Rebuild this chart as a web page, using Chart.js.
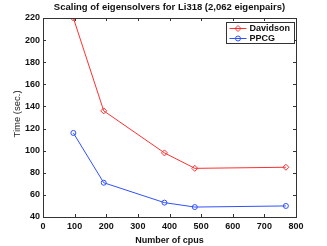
<!DOCTYPE html>
<html>
<head>
<meta charset="utf-8">
<script src="https://cdn.jsdelivr.net/npm/chart.js@4/dist/chart.umd.min.js"></script>
<style>
  html, body { margin: 0; padding: 0; background: #fff; }
  #wrap { width: 327px; height: 246px; }
</style>
</head>
<body>
<div id="wrap"><canvas id="myChart" width="327" height="246"></canvas></div>
<script>
const cpus = [96, 192, 384, 480, 768];
const davidson = [220, 136, 98, 84, 85];
const ppcg = [116, 71, 53, 49, 50];

const FONT = "'Liberation Sans', Arial, sans-serif";

// matlab style box, inward ticks, title, y label and legend
const matlabBox = {
    id: 'matlabBox',
    afterDatasetsDraw(chart) {
        const { ctx, chartArea: a, scales } = chart;
        ctx.save();
        ctx.strokeStyle = '#333';
        ctx.lineWidth = 1;
        ctx.strokeRect(Math.round(a.left) + 0.5, Math.round(a.top) + 0.5,
            Math.round(a.right - a.left), Math.round(a.bottom - a.top));

        ctx.beginPath();
        scales.x.ticks.forEach((t, i) => {
            const x = Math.round(scales.x.getPixelForTick(i)) + 0.5;
            ctx.moveTo(x, a.bottom); ctx.lineTo(x, a.bottom - 3);
            ctx.moveTo(x, a.top); ctx.lineTo(x, a.top + 3);
        });
        scales.y.ticks.forEach((t, i) => {
            const y = Math.round(scales.y.getPixelForTick(i)) + 0.5;
            ctx.moveTo(a.left, y); ctx.lineTo(a.left + 3, y);
            ctx.moveTo(a.right, y); ctx.lineTo(a.right - 3, y);
        });
        ctx.stroke();

        // title
        ctx.fillStyle = '#111';
        ctx.font = 'bold 9.5px ' + FONT;
        ctx.textAlign = 'center';
        ctx.textBaseline = 'middle';
        ctx.fillText('Scaling of eigensolvers for Li318 (2,062 eigenpairs)', (a.left + a.right) / 2, 7);

        // y label
        ctx.save();
        ctx.translate(17, 114);
        ctx.rotate(-Math.PI / 2);
        ctx.fillStyle = '#222';
        ctx.font = '9.5px ' + FONT;
        ctx.fillText('Time (sec.)', 0, 0);
        ctx.restore();

        // legend
        const lx = 226.5, ly = 22.5, lw = 68, lh = 21;
        ctx.fillStyle = '#fff';
        ctx.fillRect(lx, ly, lw, lh);
        ctx.strokeStyle = '#333';
        ctx.strokeRect(lx, ly, lw, lh);
        chart.data.datasets.forEach((ds, i) => {
            const y = ly + 6 + i * 10;
            ctx.strokeStyle = ds.borderColor;
            ctx.beginPath();
            ctx.moveTo(lx + 3, y); ctx.lineTo(lx + 20, y);
            ctx.stroke();
            ctx.fillStyle = 'rgba(0,0,0,0)';
            Chart.helpers.drawPoint(ctx, { pointStyle: ds.pointStyle, radius: ds.pointRadius, borderWidth: 1 }, lx + 11.5, y);
            ctx.fillStyle = '#111';
            ctx.font = 'bold 9px ' + FONT;
            ctx.textAlign = 'left';
            ctx.fillText(ds.label, lx + 23, y + 0.5);
        });
        ctx.restore();
    }
};

const ctx = document.getElementById('myChart');
new Chart(ctx, {
    type: 'line',
    data: {
        datasets: [
            {
                label: 'Davidson',
                data: cpus.map((c, i) => ({ x: c, y: davidson[i] })),
                borderColor: '#ff3030',
                backgroundColor: 'transparent',
                borderWidth: 1,
                pointStyle: 'rectRot',
                pointRadius: 3,
                pointBorderWidth: 1,
                tension: 0
            },
            {
                label: 'PPCG',
                data: cpus.map((c, i) => ({ x: c, y: ppcg[i] })),
                borderColor: '#3050ff',
                backgroundColor: 'transparent',
                borderWidth: 1,
                pointStyle: 'circle',
                pointRadius: 2.5,
                pointBorderWidth: 1,
                tension: 0
            }
        ]
    },
    options: {
        responsive: false,
        animation: false,
        layout: { padding: { top: 18, right: 31, left: 0, bottom: 0 } },
        plugins: {
            legend: { display: false },
            tooltip: { enabled: false },
            title: { display: false }
        },
        scales: {
            x: {
                type: 'linear',
                min: 0, max: 800,
                ticks: { stepSize: 100, padding: 4, color: '#111', font: { family: FONT, size: 9, weight: 'bold' }, maxRotation: 0 },
                grid: { display: false, drawTicks: false },
                border: { display: false },
                title: { display: true, text: 'Number of cpus', color: '#111', font: { family: FONT, size: 9, weight: 'bold' }, padding: { top: 4, bottom: 0 } },
                afterFit(s) { s.height = 29; }
            },
            y: {
                min: 40, max: 220,
                ticks: { stepSize: 20, padding: 3, color: '#111', font: { family: FONT, size: 9, weight: 'bold' } },
                grid: { display: false, drawTicks: false },
                border: { display: false },
                afterFit(s) { s.width = 43; }
            }
        }
    },
    plugins: [matlabBox]
});
</script>
</body>
</html>
